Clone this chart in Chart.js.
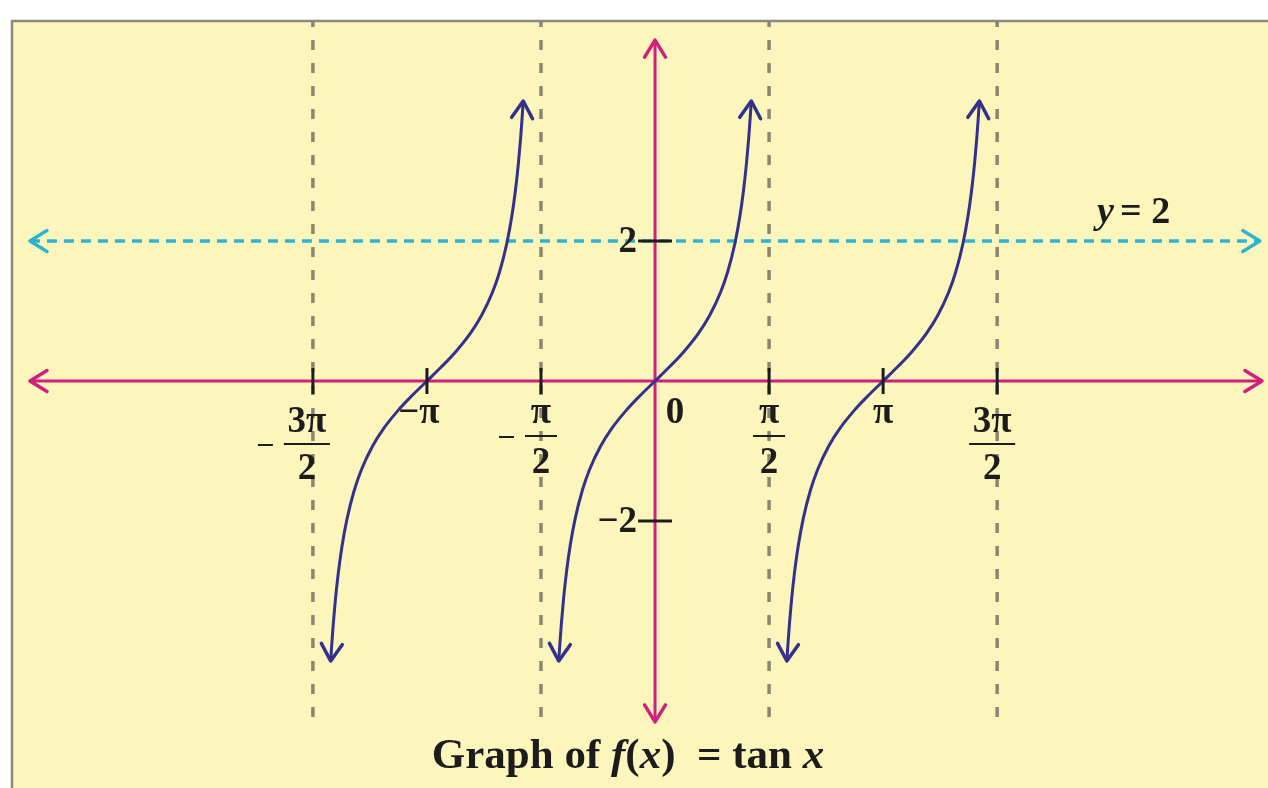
<!DOCTYPE html>
<html>
<head>
<meta charset="utf-8">
<script src="https://cdn.jsdelivr.net/npm/chart.js@4.4.1/dist/chart.umd.min.js"></script>
<style>
  html, body { margin: 0; padding: 0; background: #ffffff; }
  canvas { display: block; }
</style>
</head>
<body>
<canvas id="tanChart" width="1268" height="788"></canvas>
<script>
// Datos del gráfico de tan x
const PI = Math.PI;
const branchCenters = [-PI, 0, PI];
const branchOffsets = [-1.326, -1.31, -1.29, -1.26, -1.22, -1.17, -1.1, -1.0, -0.9, -0.75, -0.6, -0.4, -0.2, 0,
                       0.2, 0.4, 0.6, 0.75, 0.9, 1.0, 1.1, 1.17, 1.22, 1.26, 1.29, 1.31, 1.326];
const branchValues = [-4.0, -3.747, -3.467, -3.113, -2.733, -2.36, -1.965, -1.557, -1.26, -0.932, -0.684, -0.423, -0.203, 0,
                      0.203, 0.423, 0.684, 0.932, 1.26, 1.557, 1.965, 2.36, 2.733, 3.113, 3.467, 3.747, 4.0];
const asymptoteX = [-3 * PI / 2, -PI / 2, PI / 2, 3 * PI / 2];
const asymptoteRange = [5.2, -4.89];
const tickX = [-3 * PI / 2, -PI, -PI / 2, PI / 2, PI, 3 * PI / 2];
const tickY = [-2, 2];
const xAxisRange = [-8.61, 8.36];
const yAxisRange = [-4.87, 4.87];
const guideY = 2;
const guideRange = [-8.61, 8.33];
const tickLabelsX = [
    { value: -3 * PI / 2, sign: '−', num: '3π', den: '2' },
    { value: -PI, text: '−π' },
    { value: -PI / 2, sign: '−', num: 'π', den: '2' },
    { value: 0, text: '0' },
    { value: PI / 2, num: 'π', den: '2' },
    { value: PI, text: 'π' },
    { value: 3 * PI / 2, num: '3π', den: '2' }
];
const tickLabelsY = [{ value: 2, text: '2' }, { value: -2, text: '−2' }];

const NAVY = '#32328c';
const MAGENTA = '#d0207c';
const CYAN = '#2fb3d3';
const GREY = '#8a8770';
const SERIF = '"Liberation Serif", "DejaVu Serif", serif';

const datasets = [];

branchCenters.forEach(c => {
    datasets.push({
        data: branchOffsets.map((t, i) => ({ x: c + t, y: branchValues[i] })),
        borderColor: NAVY,
        borderWidth: 3,
        pointRadius: 0,
        showLine: true,
        cubicInterpolationMode: 'monotone',
        order: 0,
        arrows: true
    });
});

datasets.push({
    data: [{ x: xAxisRange[0], y: 0 }, { x: xAxisRange[1], y: 0 }],
    borderColor: MAGENTA, borderWidth: 3, pointRadius: 0, showLine: true, order: 1, arrows: true
});
datasets.push({
    data: [{ x: 0, y: yAxisRange[1] }, { x: 0, y: yAxisRange[0] }],
    borderColor: MAGENTA, borderWidth: 3, pointRadius: 0, showLine: true, order: 1, arrows: true
});
datasets.push({
    data: [{ x: guideRange[0], y: guideY }, { x: guideRange[1], y: guideY }],
    borderColor: CYAN, borderWidth: 3.5, borderDash: [10, 7], pointRadius: 0, showLine: true, order: 2, arrows: true
});
asymptoteX.forEach(a => {
    datasets.push({
        data: [{ x: a, y: asymptoteRange[0] }, { x: a, y: asymptoteRange[1] }],
        borderColor: GREY, borderWidth: 3.5, borderDash: [10, 13], pointRadius: 0, showLine: true, order: 3
    });
});

function chevron(ctx, x, y, angle, len, color, width) {
    ctx.save();
    ctx.strokeStyle = color;
    ctx.lineWidth = width;
    ctx.setLineDash([]);
    ctx.lineCap = 'round';
    ctx.lineJoin = 'round';
    ctx.beginPath();
    const a1 = angle + Math.PI - 0.55;
    const a2 = angle + Math.PI + 0.55;
    ctx.moveTo(x + len * Math.cos(a1), y + len * Math.sin(a1));
    ctx.lineTo(x, y);
    ctx.lineTo(x + len * Math.cos(a2), y + len * Math.sin(a2));
    ctx.stroke();
    ctx.restore();
}

const panelPlugin = {
    id: 'panel',
    beforeDraw(chart) {
        const { ctx, chartArea } = chart;
        ctx.save();
        ctx.fillStyle = '#fdf6bc';
        ctx.fillRect(chartArea.left, chartArea.top, chartArea.right - chartArea.left, chartArea.bottom - chartArea.top);
        ctx.strokeStyle = '#8a8a7c';
        ctx.lineWidth = 2.5;
        ctx.beginPath();
        ctx.moveTo(chartArea.left, chartArea.bottom);
        ctx.lineTo(chartArea.left, chartArea.top);
        ctx.lineTo(chartArea.right, chartArea.top);
        ctx.stroke();
        ctx.restore();
    }
};

const decorPlugin = {
    id: 'decor',
    afterDatasetsDraw(chart) {
        const { ctx } = chart;
        const xs = chart.scales.x, ys = chart.scales.y;
        const px = v => xs.getPixelForValue(v);
        const py = v => ys.getPixelForValue(v);

        // Flechas al final de cada línea
        chart.data.datasets.forEach(ds => {
            if (!ds.arrows) return;
            const d = ds.data, n = d.length;
            const ends = [[d[n - 1], d[n - 2]], [d[0], d[1]]];
            ends.forEach(([p, q]) => {
                const x = px(p.x), y = py(p.y);
                const ang = Math.atan2(y - py(q.y), x - px(q.x));
                chevron(ctx, x, y, ang, 20, ds.borderColor, 3.5);
            });
        });

        // Marcas de los ejes
        ctx.save();
        ctx.strokeStyle = '#1c1c1c';
        ctx.lineWidth = 3;
        tickX.forEach(v => {
            ctx.beginPath();
            ctx.moveTo(px(v), py(0) - 13);
            ctx.lineTo(px(v), py(0) + 13);
            ctx.stroke();
        });
        tickY.forEach(v => {
            ctx.beginPath();
            ctx.moveTo(px(0) - 17, py(v));
            ctx.lineTo(px(0) + 17, py(v));
            ctx.stroke();
        });

        // Etiquetas
        ctx.fillStyle = '#1c1c1c';
        ctx.textAlign = 'center';
        ctx.textBaseline = 'middle';
        ctx.font = 'bold 37px ' + SERIF;
        const y0 = py(0);
        tickLabelsX.forEach(l => {
            const x = px(l.value);
            if (l.text) {
                const dx = l.value === 0 ? 20 : (l.value < 0 ? -8 : 0);
                ctx.fillText(l.text, x + dx, y0 + 32);
                return;
            }
            const wide = l.num.length > 1;
            const cx = x + (l.value < -4 ? -6 : (l.value > 4 ? -5 : 0));
            const off = wide ? [41, 63, 88] : [32, 55, 82];
            ctx.fillText(l.num, cx, y0 + off[0]);
            ctx.fillText(l.den, cx, y0 + off[2]);
            const w = wide ? 46 : 32;
            ctx.lineWidth = 2;
            ctx.beginPath();
            ctx.moveTo(cx - w / 2, y0 + off[1]);
            ctx.lineTo(cx + w / 2, y0 + off[1]);
            ctx.stroke();
            if (l.sign) {
                ctx.beginPath();
                ctx.moveTo(cx - w / 2 - 26, y0 + off[1] + 1);
                ctx.lineTo(cx - w / 2 - 11, y0 + off[1] + 1);
                ctx.stroke();
            }
        });
        tickLabelsY.forEach(l => {
            ctx.textAlign = 'right';
            ctx.fillText(l.text, px(0) - 18, py(l.value) + 1);
        });

        // y = 2
        ctx.textAlign = 'left';
        ctx.font = 'italic bold 38px ' + SERIF;
        ctx.fillText('y', 1097, py(guideY) - 28);
        ctx.font = 'bold 38px ' + SERIF;
        ctx.fillText('= 2', 1120, py(guideY) - 28);

        // Título
        const parts = [
            ['Graph of ', false], ['f', true], ['(', false], ['x', true],
            [')  = tan ', false], ['x', true]
        ];
        const tsize = 'bold 43px ';
        let total = 0;
        parts.forEach(([t, it]) => {
            ctx.font = (it ? 'italic ' : '') + tsize + SERIF;
            total += ctx.measureText(t).width;
        });
        let x = 628 - total / 2;
        parts.forEach(([t, it]) => {
            ctx.font = (it ? 'italic ' : '') + tsize + SERIF;
            ctx.fillText(t, x, 757);
            x += ctx.measureText(t).width;
        });
        ctx.restore();
    }
};

new Chart(document.getElementById('tanChart').getContext('2d'), {
    type: 'scatter',
    data: { datasets: datasets },
    options: {
        responsive: false,
        animation: false,
        layout: { padding: { left: 12, top: 21, right: 0, bottom: 0 } },
        plugins: { legend: { display: false }, tooltip: { enabled: false }, title: { display: false } },
        scales: {
            x: { type: 'linear', min: -8.857, max: 8.443, display: false },
            y: { type: 'linear', min: -5.814, max: 5.143, display: false }
        }
    },
    plugins: [panelPlugin, decorPlugin]
});
</script>
</body>
</html>
